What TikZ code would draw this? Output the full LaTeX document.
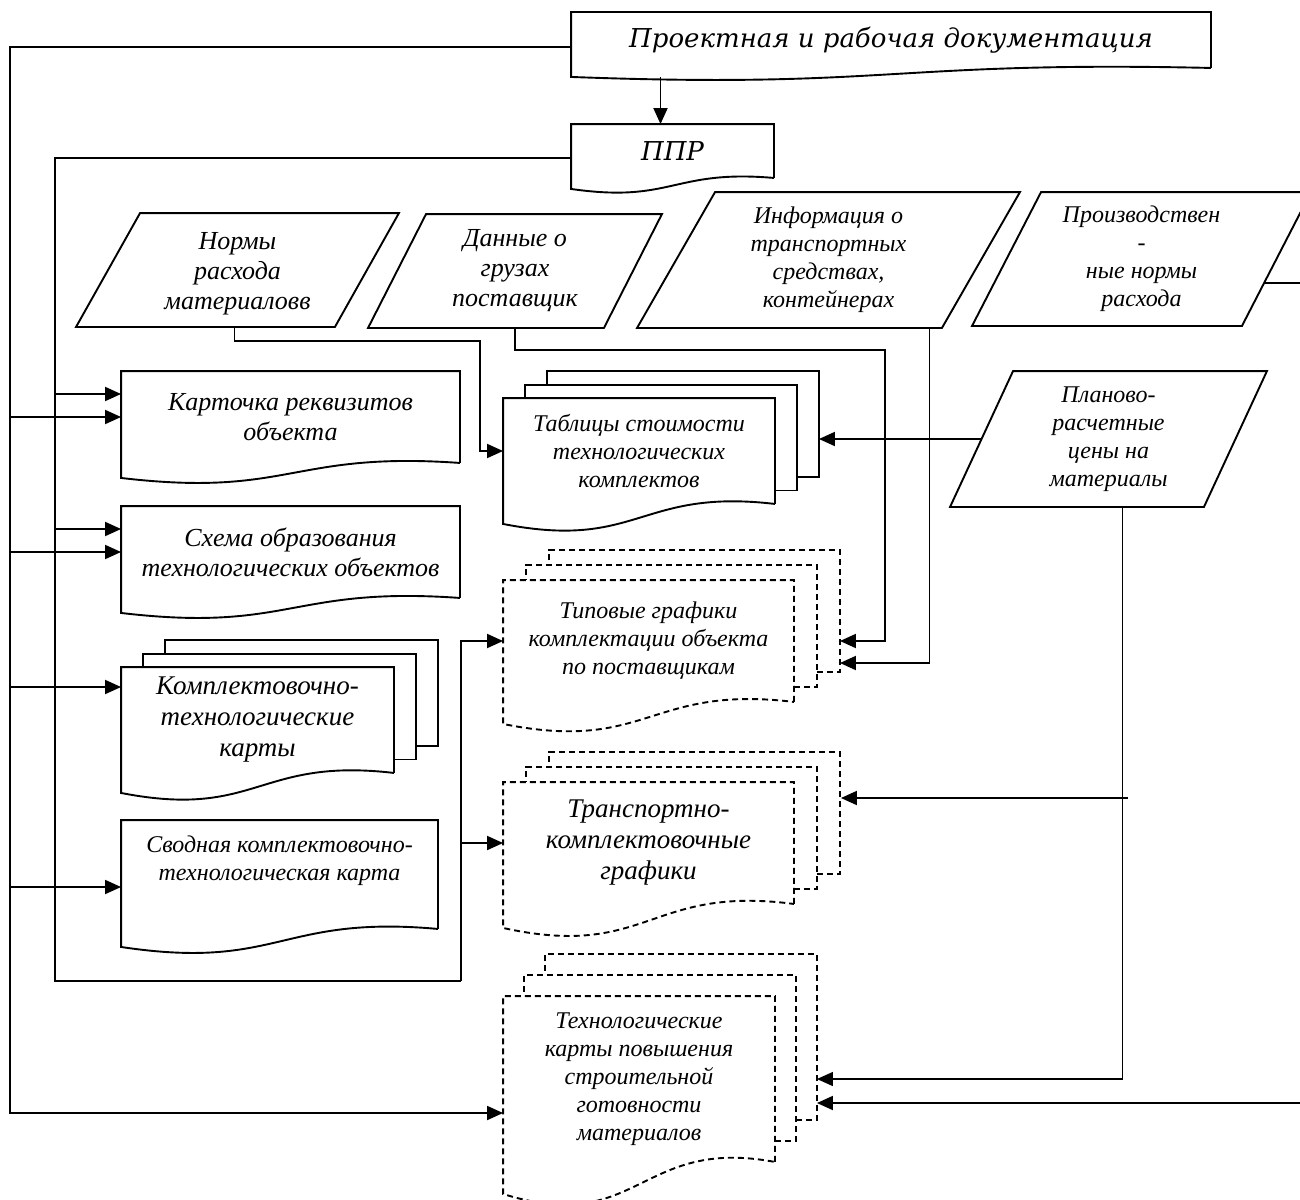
\documentclass[tikz,border=0pt]{standalone}
\usepackage{fontspec}
\setmainfont{Liberation Serif}
\newfontfamily\headfont{DejaVu Serif}
\usetikzlibrary{arrows.meta}

% document with wavy bottom edge
\newcommand{\wavedoc}[3][]{%
  \draw[#1] (#2.south east) -- (#2.north east) -- (#2.north west) -- ([yshift={-#3}]#2.south west)
    .. controls ([yshift={-2.33*#3}]#2.south) and ([yshift={0.8*#3}]#2.south) .. (#2.south east);}
% two pages behind a document
\newcommand{\docpages}[4][]{%
  \foreach \k in {1,2}{
    \draw[#1] ([xshift={(\k-1)*#3}, yshift={\k*#4}]#2.south east) -- ++(#3,0)
      |- ([xshift={\k*#3}, yshift={\k*#4}]#2.north west) -- ++(0,#4);
  }}
% slanted data box
\newcommand{\slantbox}[2]{%
  \draw ([xshift=#2]#1.north west) -- (#1.north east) -- ([xshift=-#2]#1.south east) -- (#1.south west) -- cycle;}

\tikzset{
  arr/.style={-{Triangle[length=16pt,width=14pt]}},
  fr/.style={inner sep=0pt, align=center},
  boxsize/.style 2 args={minimum width=#1pt, minimum height=#2pt},
  txthead/.style={font=\headfont\fontsize{26}{30}\selectfont\itshape},
  txtbig/.style={font=\fontsize{27}{31}\selectfont\itshape},
  txtlarge/.style={font=\fontsize{26}{30}\selectfont\itshape},
  txtmed/.style={font=\fontsize{24}{28}\selectfont\itshape},
  dsh/.style={dash pattern=on 6pt off 4pt},
}

\begin{document}
\begin{tikzpicture}[x=1pt, y=-1pt, line width=1.9pt]
\useasboundingbox (0,0) rectangle (1300,1199);
\clip (0,0) rectangle (1300,1199);

% top documents
\node[fr, txthead, boxsize={638}{54}] (proj) at (891,40) {\raisebox{-3pt}{Проектная и рабочая документация}};
\wavedoc{proj}{9}
\node[fr, txthead, boxsize={201}{52}] (ppr) at (672.5,151) {\raisebox{-5pt}{ППР}};
\wavedoc{ppr}{11}
\draw[arr] ([xshift=-12pt]ppr.north) ++(0,-47) -- ([xshift=-12pt]ppr.north);

% input data
\node[fr, boxsize={321}{112}] (norms) at (237.5,270) {};
\slantbox{norms}{64}
\node[fr, txtlarge] (normstext) at (237.5,274) {Нормы\\расхода\\материаловв};
\node[fr, txtlarge, boxsize={292}{112}] (data) at (515,271) {Данные о\\грузах\\поставщик};
\slantbox{data}{58}
\node[fr, txtmed, boxsize={381}{134}] (info) at (828.5,260) {Информация о\\транспортных\\средствах,\\контейнерах};
\slantbox{info}{78}
\node[fr, txtmed, boxsize={337}{132}] (prod) at (1141.5,259) {Производствен\\-\\ные нормы\\расхода};
\slantbox{prod}{69}
\node[fr, txtmed, boxsize={315}{134}] (plan) at (1108.5,439) {Планово-\\расчетные\\цены на\\материалы};
\slantbox{plan}{63}

% left column
\node[fr, txtlarge, boxsize={337}{90}] (kart) at (290.5,417) {Карточка реквизитов\\объекта};
\wavedoc{kart}{15}
\node[fr, txtlarge, boxsize={337}{90}] (scheme) at (290.5,552) {Схема образования\\технологических объектов};
\wavedoc{scheme}{15}
\node[fr, txtbig, boxsize={271}{104}] (kompl) at (257.5,720) {Комплектовочно-\\технологические\\карты};
\wavedoc{kompl}{20}
\docpages{kompl}{22}{13.5}
\node[fr, boxsize={315}{107}] (svod) at (279.5,874.5) {};
\wavedoc{svod}{18}
\node[fr, txtmed] (svodtext) at (279.5,861) {Сводная комплектовочно-\\технологическая карта};

% middle column
\node[fr, txtmed, boxsize={270}{104}] (tab) at (639,451) {Таблицы стоимости\\технологических\\комплектов};
\wavedoc{tab}{20}
\docpages{tab}{22}{13.5}
\node[fr, txtmed, boxsize={289}{120}] (typ) at (648.5,641) {Типовые графики\\комплектации объекта\\по поставщикам};
\wavedoc[dsh]{typ}{22}
\docpages[dsh]{typ}{23}{15}
\node[fr, txtbig, boxsize={289}{120}] (trans) at (648.5,843) {Транспортно-\\комплектовочные\\графики};
\wavedoc[dsh]{trans}{24}
\docpages[dsh]{trans}{23}{15}
\node[fr, txtmed, boxsize={270}{164}] (tech) at (639,1079) {Технологические\\карты повышения\\строительной\\готовности\\материалов};
\wavedoc[dsh]{tech}{32}
\docpages[dsh]{tech}{21}{21}

% buses on the left
\coordinate (busA) at (10,0);
\coordinate (busB) at (55,981);
\coordinate (busC) at (461,981);
\coordinate (techin) at ([yshift=-34pt]tech.west);
\coordinate (komplin) at ([yshift=33pt]kompl.west);
\coordinate (svodin) at ([yshift=-12.5pt]svod.west);
\coordinate (kartin) at ([yshift=23pt]kart.west);
\coordinate (schemein) at ([yshift=23pt]scheme.west);

\draw[arr] ([yshift=-7pt]proj.west) -| (busA |- techin) -- (techin);
\foreach \t in {kart.west, scheme.west, komplin, svodin}
  \draw[arr] (busA |- \t) -- (\t);
\draw ([yshift=-7pt]ppr.west) -| (busB) -- (busC);
\draw[arr] (busC) |- (typ.west);
\draw[arr] (busC |- trans.west) -- (trans.west);
\foreach \t in {kartin, schemein}
  \draw[arr] (busB |- \t) -- (\t);

% from the input data
\draw[arr] ([xshift=-3pt]norms.south) -- ++(0,14) -| ([xshift=-23pt]tab.west) -- (tab.west);
\draw[arr] (data.south) -- ++(0,22) -| ([xshift=91pt]typ.east) -- ([xshift=46pt]typ.east);
\draw[arr] ([xshift=101pt]info.south) |- ([xshift=46pt,yshift=-22pt]typ.east);
\draw[arr] ([xshift=31pt]plan.west) -- ([xshift=44pt,yshift=12pt]tab.east);
\draw[arr, line width=1.4pt] ([xshift=14pt]plan.south) |- ([xshift=42pt]tech.east);
\draw[arr] ([xshift=334pt,yshift=45pt]trans.east) -- ([xshift=47pt,yshift=45pt]trans.east);
\draw[arr] ([xshift=-47pt,yshift=-24pt]prod.east) -- ++(60,0) |- ([xshift=42pt,yshift=-24pt]tech.east);
\end{tikzpicture}
\end{document}
